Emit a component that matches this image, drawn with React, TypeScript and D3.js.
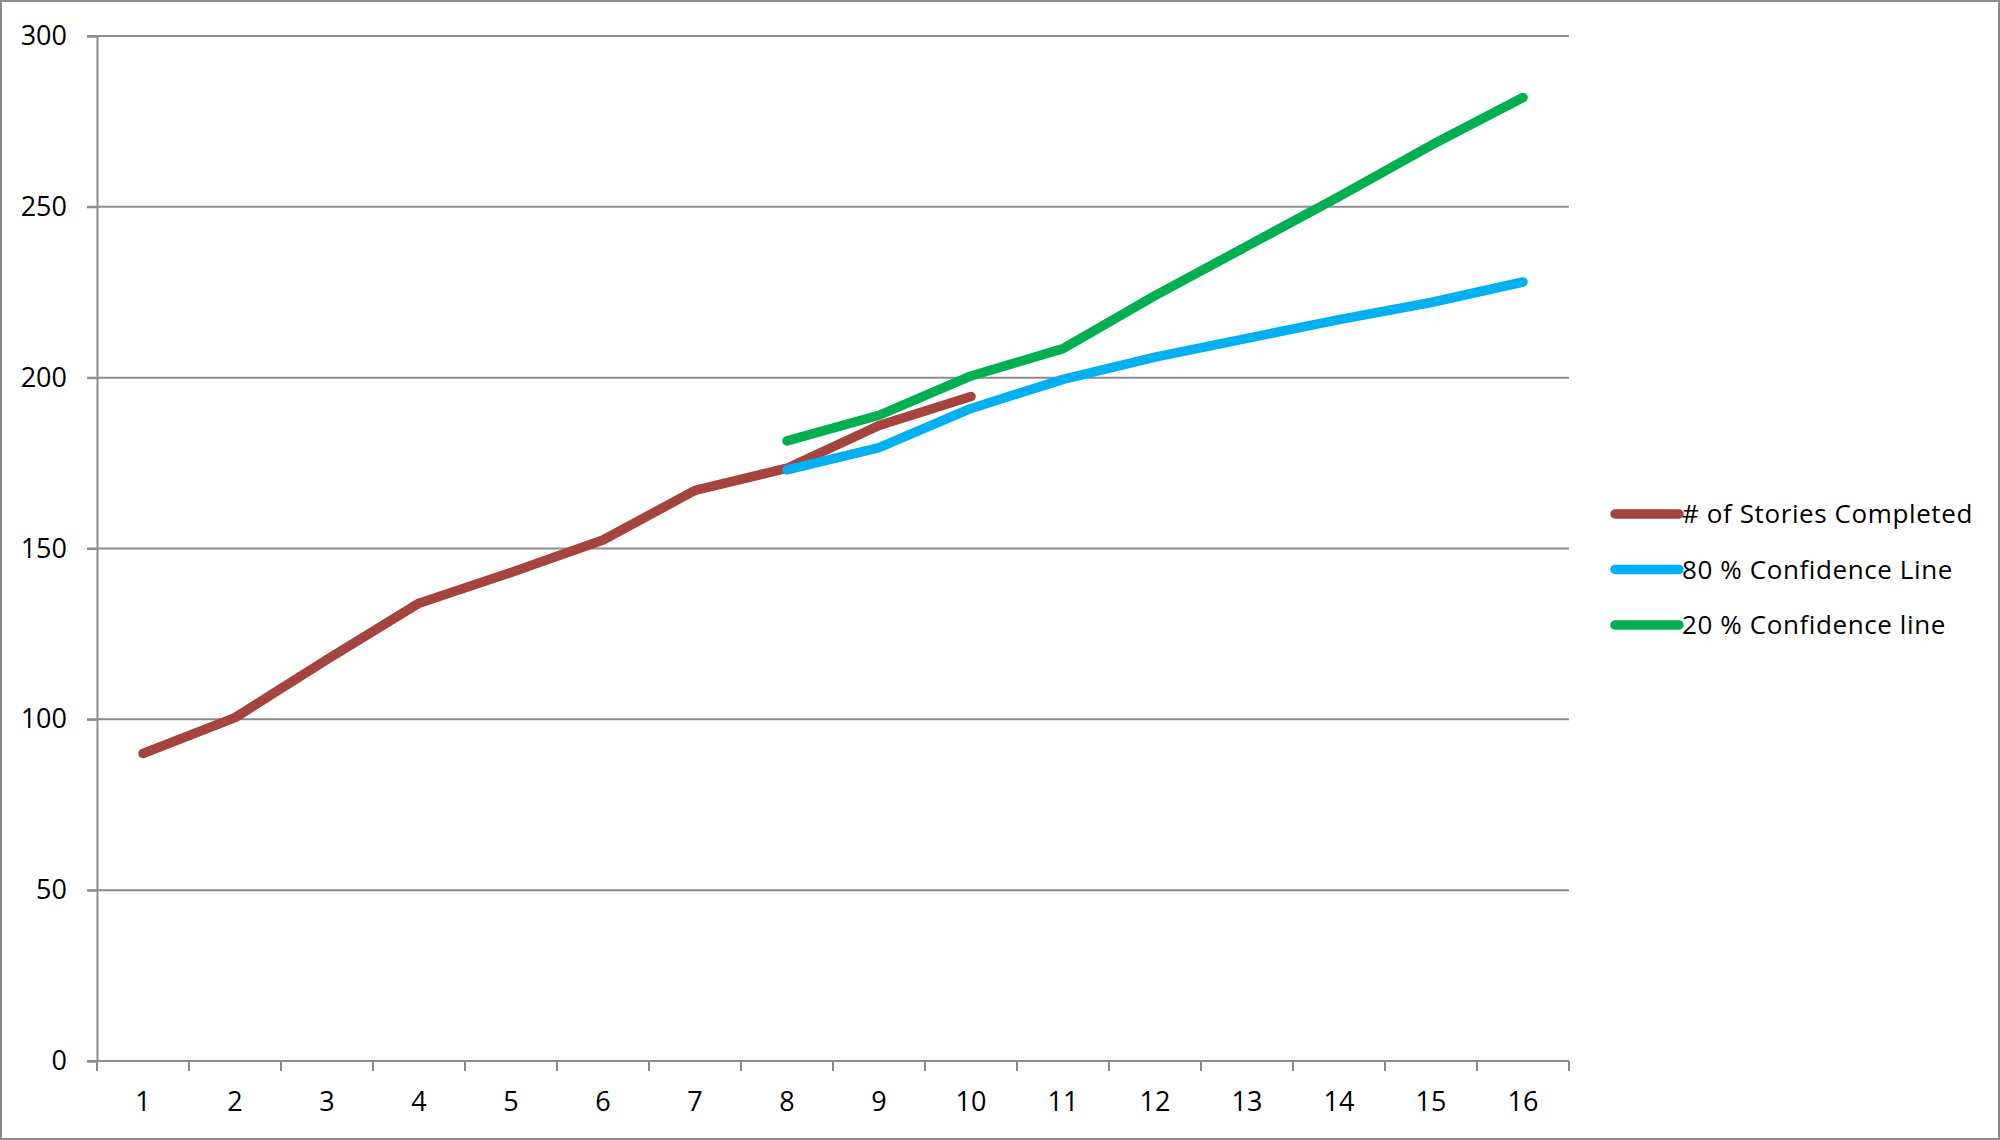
import React, { useEffect, useRef } from "react";
import * as d3 from "d3";

const sprints = ["1", "2", "3", "4", "5", "6", "7", "8", "9", "10", "11", "12", "13", "14", "15", "16"];
const storiesCompleted = [90, 100.5, 117.5, 134, 143, 152.5, 167, 173.5, 186, 194.5];
const confidence80 = [173, 179.5, 191, 199.5, 206, 211.5, 217, 222, 228];
const confidence20 = [181.5, 189, 200.5, 208.5, 224, 238.5, 253, 268, 282];
const yTicks = [0, 50, 100, 150, 200, 250, 300];

const seriesNames = ["# of Stories Completed", "80 % Confidence Line", "20 % Confidence line"];
const seriesColors = ["#a5443f", "#00b0f0", "#00b050"];

const App = () => {
  const svgRef = useRef<SVGSVGElement | null>(null);

  useEffect(() => {
    const width = 2000;
    const height = 1140;
    const margin = { top: 36, right: 431, bottom: 79, left: 97 };
    const font = "'Open Sans', 'Noto Sans', sans-serif";

    const svg = d3.select(svgRef.current).attr("width", width).attr("height", height);
    svg.selectAll("*").remove();

    // outer frame
    svg.append("rect")
      .attr("x", 1).attr("y", 1)
      .attr("width", width - 2).attr("height", height - 2)
      .attr("fill", "white").attr("stroke", "#8c8c8c").attr("stroke-width", 2);

    const x = d3.scaleBand()
      .domain(sprints)
      .range([margin.left, width - margin.right]);

    const y = d3.scaleLinear()
      .domain([0, 300])
      .range([height - margin.bottom, margin.top]);

    // gridlines
    svg.append("g")
      .selectAll("line")
      .data(yTicks.filter((d) => d > 0))
      .enter()
      .append("line")
      .attr("x1", margin.left - 10)
      .attr("x2", width - margin.right)
      .attr("y1", (d) => y(d))
      .attr("y2", (d) => y(d))
      .attr("stroke", "#8c8c8c")
      .attr("stroke-width", 2);

    // Y axis
    const yAxis = svg.append("g")
      .attr("transform", `translate(${margin.left},0)`)
      .call(d3.axisLeft(y).tickValues(yTicks).tickSize(10).tickPadding(20));
    yAxis.select(".domain").attr("stroke", "#8c8c8c").attr("stroke-width", 2);
    yAxis.selectAll(".tick line").attr("stroke", "#8c8c8c").attr("stroke-width", 2);
    yAxis.selectAll(".tick text")
      .attr("font-family", font).attr("font-size", 27).attr("fill", "#000");

    // X axis: ticks at category boundaries
    const xAxis = svg.append("g")
      .attr("transform", `translate(0,${height - margin.bottom})`);
    xAxis.append("line")
      .attr("x1", margin.left - 10).attr("x2", width - margin.right)
      .attr("stroke", "#8c8c8c").attr("stroke-width", 2);
    const boundaries = sprints.map((s) => x(s)!).concat([width - margin.right]);
    xAxis.selectAll(".xtick")
      .data(boundaries)
      .enter()
      .append("line")
      .attr("x1", (d) => d).attr("x2", (d) => d)
      .attr("y1", 0).attr("y2", 10)
      .attr("stroke", "#8c8c8c").attr("stroke-width", 2);
    xAxis.selectAll(".xlabel")
      .data(sprints)
      .enter()
      .append("text")
      .attr("x", (d) => x(d)! + x.bandwidth() / 2)
      .attr("y", 50)
      .attr("text-anchor", "middle")
      .attr("font-family", font).attr("font-size", 27).attr("fill", "#000")
      .text((d) => d);

    // lines
    const line = d3.line<[string, number]>()
      .x((d) => x(d[0])! + x.bandwidth() / 2)
      .y((d) => y(d[1]));

    const series: [string, number][][] = [
      storiesCompleted.map((v, i) => [sprints[i], v]),
      confidence80.map((v, i) => [sprints[i + 7], v]),
      confidence20.map((v, i) => [sprints[i + 7], v]),
    ];

    series.forEach((s, i) => {
      svg.append("path")
        .datum(s)
        .attr("d", line)
        .attr("fill", "none")
        .attr("stroke", seriesColors[i])
        .attr("stroke-width", 9.5)
        .attr("stroke-linecap", "round")
        .attr("stroke-linejoin", "round");
    });

    // legend
    const legend = svg.append("g").attr("transform", "translate(1615,514)");
    seriesNames.forEach((name, i) => {
      const g = legend.append("g").attr("transform", `translate(0,${i * 55.5})`);
      g.append("line")
        .attr("x1", 0).attr("x2", 64)
        .attr("stroke", seriesColors[i]).attr("stroke-width", 9.5)
        .attr("stroke-linecap", "round");
      g.append("text")
        .attr("x", 67).attr("y", 9)
        .attr("font-family", font).attr("font-size", 26).attr("fill", "#000")
        .attr("letter-spacing", 0.6)
        .text(name);
    });
  }, []);

  return (
    <div style={{ position: "absolute", left: 0, top: 0 }}>
      <svg ref={svgRef} style={{ display: "block" }}></svg>
    </div>
  );
};

export default App;
